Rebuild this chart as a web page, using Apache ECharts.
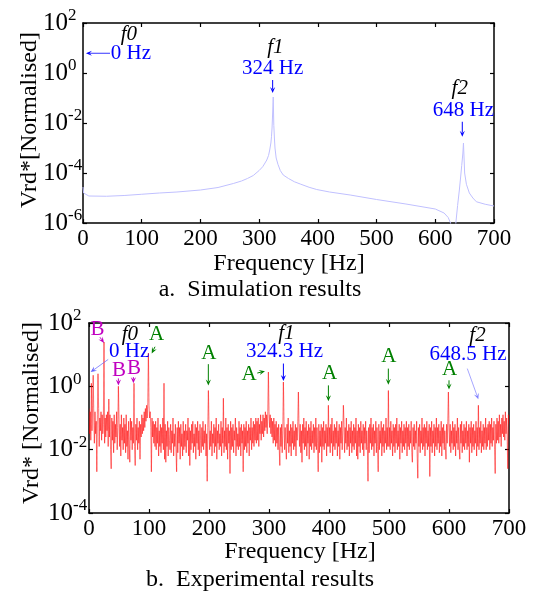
<!DOCTYPE html>
<html><head><meta charset="utf-8">
<script src="https://cdn.jsdelivr.net/npm/echarts@6.0.0/dist/echarts.min.js"></script>
<style>html,body{margin:0;padding:0;background:#fff}#c{width:538px;height:597px}</style>
</head><body><div id="c"></div><script>
// ---------- (a) simulation: frequency [Hz] and log10(Vrd*) ----------
const simFreq = [0,1,3,10,40,70,100,130,160,200,230,256,270,280,290,300,306,310,313,316,318,320,321,322,323,324,325,326,327,329,332,336,341,350,360,370,385,398,420,455,500,550,600,615,622,626,630,633,635,638,641,643,645,647,648,649,650,653,658,664,670,685,700];
const simExp = [-4.56,-4.80,-4.88,-4.92,-4.93,-4.90,-4.85,-4.80,-4.76,-4.68,-4.58,-4.42,-4.32,-4.22,-4.10,-3.9,-3.75,-3.6,-3.48,-3.3,-3.08,-2.8,-2.55,-2.2,-1.6,-0.96,-2.1,-2.6,-3.0,-3.4,-3.65,-3.9,-4.08,-4.22,-4.35,-4.44,-4.57,-4.66,-4.76,-4.88,-5.06,-5.24,-5.44,-5.6,-5.78,-6.0,-7.0,-7.5,-6.0,-5.3,-4.68,-4.2,-3.7,-3.2,-2.8,-3.4,-4.0,-4.45,-4.8,-5.0,-5.15,-5.25,-5.32];

// ---------- (b) experiment: log10(Vrd*) at 1 Hz steps, 0..700 Hz ----------
const expSeg0 = [-0.7,-1.5,-0.8,-1.7,-0.9,-1.4,-0.6,-1.6,-1.0,-1.8,
 -0.8,-1.5,-1.1,-2.7,-0.9,-1.6,-0.7,-1.9,-1.0,-1.4,
 -0.8,-1.7,-0.9,-1.5,-1.2,-0.7,-1.8,-1.0,-1.6,-0.9,
 -1.4,-0.8,-1.9,-1.1,-1.6,-0.9,-2.0,-2.6,-1.0,-1.7,
 -1.1,-2.1,-0.9,-1.8,-1.2,-1.6,-0.8,-2.0,-1.3,-1.5,
 -1.0,-1.9,-1.2,-2.2,-0.9,-1.7,-1.3,-2.0,-1.0,-1.8,
 -1.2,-2.1,-0.9,-1.9,-1.4,-2.3,-1.1,-1.8,-2.4,-1.0,
 -1.7,-1.1,-2.0,-1.3,-1.8,-0.9,-1.9,-2.5,-1.2,-1.7,
 -1.0,-2.0,-1.3,-1.8,-1.1,-2.3,-1.2,-1.6,-0.9,-1.5,
 -1.0,-1.4,-0.8,-1.3,-0.7,-1.1,-0.6,-1.0,-0.5,-0.8];
const expSeg1 = [-0.6,-1.0,-0.8,-1.3,-2.7,-1.0,-1.6,-1.1,-1.8,-1.2,
 -1.9,-1.1,-2.0,-1.3,-1.8,-1.0,-2.2,-1.4,-1.9,-1.2,
 -2.1,-1.3,-1.8,-1.0,-2.0,-1.5,-2.3,-1.2,-2.4,-1.4,
 -1.9,-1.1,-2.2,-1.3,-1.7,-2.0,-1.2,-2.1,-1.4,-1.8,
 -1.0,-2.2,-1.5,-1.9,-1.2,-2.0,-2.7,-1.3,-2.1,-1.1,
 -1.8,-1.3,-2.3,-1.2,-1.9,-1.5,-2.2,-1.1,-2.0,-1.4,
 -1.9,-1.2,-2.1,-1.4,-1.7,-1.0,-2.2,-1.3,-2.5,-1.4,
 -2.0,-1.2,-1.8,-1.1,-2.1,-1.5,-1.9,-1.2,-2.3,-1.3,
 -1.8,-1.1,-2.0,-1.4,-2.2,-1.2,-1.7,-2.1,-1.3,-1.9,
 -1.1,-2.0,-1.4,-1.8,-1.2,-2.2,-1.5,-3.0,-1.3,-1.9];
const expSeg2 = [-1.2,-2.0,-1.4,-1.9,-1.1,-2.2,-1.5,-1.8,-1.2,-2.1,
 -1.3,-1.9,-1.0,-2.3,-1.4,-1.8,-1.2,-2.0,-1.5,-1.9,
 -1.1,-2.2,-1.3,-1.8,-1.2,-2.1,-1.4,-1.9,-1.0,-2.0,
 -1.3,-2.3,-1.2,-1.8,-1.4,-2.75,-1.1,-2.0,-1.3,-1.9,
 -1.2,-2.1,-1.4,-1.7,-1.0,-2.2,-1.3,-1.9,-1.5,-2.0,
 -1.1,-1.9,-1.3,-2.2,-1.2,-1.8,-1.4,-2.7,-1.2,-2.0,
 -1.3,-1.9,-1.1,-2.1,-1.4,-1.8,-1.2,-2.2,-1.3,-1.7,
 -1.0,-2.0,-1.3,-1.8,-1.1,-1.9,-1.2,-1.7,-1.0,-1.8,
 -1.1,-1.7,-1.0,-1.9,-1.2,-1.5,-0.9,-1.7,-1.1,-1.5,
 -0.9,-1.6,-1.0,-1.4,-0.8,-1.3,-0.9,-1.5,-0.8,-1.2];
const expSeg3 = [-0.8,-1.3,-0.9,-1.5,-1.0,-1.6,-1.1,-1.8,-1.0,-1.7,
 -1.2,-1.9,-1.1,-1.8,-1.3,-2.0,-1.2,-1.9,-2.5,-1.3,
 -1.9,-1.2,-2.1,-1.4,-1.8,-1.1,-2.0,-1.3,-1.9,-2.3,
 -1.2,-1.8,-1.0,-2.1,-1.4,-1.9,-1.2,-2.2,-1.3,-1.8,
 -1.1,-2.0,-1.4,-1.9,-1.2,-2.2,-1.3,-1.7,-1.1,-2.0,
 -1.3,-1.9,-1.2,-2.1,-1.4,-2.4,-1.2,-1.8,-1.0,-2.0,
 -1.3,-1.9,-1.1,-2.2,-1.4,-1.8,-1.2,-2.3,-1.3,-1.9,
 -1.1,-2.0,-1.4,-1.8,-1.2,-2.1,-1.3,-1.9,-1.0,-2.0,
 -1.3,-1.8,-2.7,-1.2,-2.1,-1.4,-1.9,-1.2,-2.4,-1.3,
 -1.9,-1.1,-2.0,-1.4,-1.8,-1.2,-2.2,-1.3,-1.9,-1.1];
const expSeg4 = [-1.9,-1.3,-2.1,-1.2,-1.8,-1.0,-2.2,-1.4,-1.9,-1.2,
 -2.0,-1.3,-1.8,-1.1,-2.2,-1.4,-1.9,-1.2,-2.3,-1.3,
 -1.8,-1.1,-2.0,-1.4,-1.9,-1.2,-2.1,-1.3,-1.8,-1.0,
 -2.0,-1.4,-1.9,-1.2,-2.2,-1.3,-1.8,-1.1,-2.1,-1.4,
 -1.9,-1.2,-2.0,-1.3,-1.8,-1.0,-2.2,-1.4,-2.3,-1.2,
 -1.9,-1.3,-2.1,-1.1,-1.8,-1.4,-2.0,-1.2,-2.2,-1.3,
 -1.8,-1.1,-2.0,-1.4,-1.9,-3.0,-1.3,-2.1,-1.2,-1.8,
 -1.0,-2.0,-1.3,-1.9,-1.2,-2.2,-1.4,-1.8,-1.1,-2.1,
 -1.3,-1.9,-2.7,-1.2,-2.0,-1.4,-1.8,-1.1,-2.2,-1.3,
 -1.9,-1.2,-2.1,-1.4,-1.8,-1.0,-2.0,-1.3,-1.9,-1.2];
const expSeg5 = [-1.9,-1.3,-2.0,-1.1,-1.8,-1.4,-2.2,-1.2,-1.9,-1.3,
 -2.1,-1.2,-1.8,-1.0,-2.0,-1.4,-1.9,-1.2,-2.3,-1.3,
 -1.8,-1.1,-2.1,-1.4,-1.9,-1.2,-2.0,-1.3,-1.8,-1.1,
 -2.2,-1.3,-1.9,-1.2,-2.0,-1.4,-1.8,-1.1,-2.1,-2.4,
 -1.3,-1.9,-1.2,-2.0,-1.4,-1.8,-1.1,-2.2,-2.9,-1.3,
 -1.9,-1.2,-2.1,-1.4,-1.8,-1.0,-2.0,-1.3,-1.9,-1.2,
 -2.2,-1.3,-1.8,-1.1,-2.0,-1.4,-1.9,-1.2,-2.85,-1.3,
 -1.9,-1.1,-2.1,-1.4,-1.8,-1.2,-2.2,-1.3,-1.9,-1.0,
 -2.0,-1.3,-1.8,-1.2,-2.1,-1.4,-1.9,-1.1,-2.2,-1.3,
 -1.8,-1.2,-2.0,-1.4,-1.9,-2.3,-1.2,-1.8,-1.1,-2.0];
const expSeg6 = [-1.3,-1.9,-1.2,-2.1,-1.4,-1.8,-1.1,-2.0,-1.3,-1.9,
 -1.2,-2.2,-1.4,-1.8,-1.0,-2.0,-1.3,-1.9,-2.3,-1.2,
 -1.8,-1.1,-2.1,-1.4,-1.9,-1.2,-2.0,-1.3,-1.8,-1.1,
 -2.0,-1.4,-1.9,-1.2,-2.4,-1.3,-1.8,-1.1,-2.1,-1.3,
 -1.9,-1.2,-2.0,-1.4,-1.8,-1.1,-2.2,-1.3,-1.9,-1.2,
 -2.0,-1.3,-1.8,-1.1,-2.1,-1.4,-1.9,-1.2,-2.0,-1.3,
 -1.8,-1.0,-2.0,-1.3,-1.9,-1.2,-1.7,-1.1,-2.0,-1.2,
 -1.8,-1.0,-1.9,-1.3,-1.7,-1.1,-2.0,-2.75,-1.2,-1.8,
 -1.0,-1.7,-1.1,-1.8,-0.9,-1.6,-1.2,-1.9,-1.0,-1.5,
 -0.9,-1.6,-1.1,-1.7,-0.8,-1.5,-1.0,-1.6,-2.6,-0.9,
 -1.2];
// narrow spectral lines (frequency [Hz], log10 value)
const spikeFreq = [4,7,15,25,33,49,75,99,125,199,224,299,324,349,399,424,499,599,649];
const spikeExp  = [0.1,0.35,0.4,1.4,-0.4,0.0,0.1,1.05,0.1,-0.13,-0.38,0.45,0.14,-0.18,-0.6,-0.6,-0.13,-0.18,-0.6];

// ---------- annotations, anchored in data space [freq, log10 value] ----------
const annTextsA = [
 {t:'f0', it:true, c:'#000', at:[78,1.56]},
 {t:'0 Hz', c:'#0000ff', at:[81.5,0.79]},
 {t:'f1', it:true, c:'#000', at:[327.6,1.03]},
 {t:'324 Hz', c:'#0000ff', at:[323,0.17]},
 {t:'f2', it:true, c:'#000', at:[641.7,-0.63]},
 {t:'648 Hz', c:'#0000ff', at:[648,-1.51]}
];
const annArrowsA = [
 {c:'#0000ff', w:0.8, from:[46,0.79], to:[5,0.79]},
 {c:'#0000ff', w:1, from:[323,-0.28], to:[323,-0.8]},
 {c:'#0000ff', w:1, from:[646,-1.95], to:[646,-2.55]}
];
const annTextsB = [
 {t:'B', c:'#c000c0', at:[14,1.8]},
 {t:'f0', it:true, c:'#000', at:[68,1.65]},
 {t:'0 Hz', c:'#0000ff', at:[67,1.09]},
 {t:'A', c:'#008000', at:[112.8,1.63]},
 {t:'B', c:'#c000c0', at:[50,0.51]},
 {t:'B', c:'#c000c0', at:[75,0.57]},
 {t:'A', c:'#008000', at:[199.7,1.05]},
 {t:'324.3 Hz', c:'#0000ff', at:[326,1.09]},
 {t:'f1', it:true, c:'#000', at:[329,1.67]},
 {t:'A', c:'#008000', at:[267,0.38]},
 {t:'A', c:'#008000', at:[401,0.41]},
 {t:'A', c:'#008000', at:[499.7,0.94]},
 {t:'A', c:'#008000', at:[600.8,0.52]},
 {t:'f2', it:true, c:'#000', at:[647.5,1.62]},
 {t:'648.5 Hz', c:'#0000ff', at:[631.7,1.01]}
];
const annArrowsB = [
 {c:'#c000c0', w:1, from:[18.3,1.55], to:[25,1.37]},
 {c:'#6060ff', w:0.7, from:[32,0.85], to:[2.8,0.45]},
 {c:'#008000', w:1, from:[110,1.25], to:[104.5,1.04]},
 {c:'#c000c0', w:1, from:[49,0.25], to:[49,0.03]},
 {c:'#c000c0', w:1, from:[74,0.29], to:[74,0.1]},
 {c:'#008000', w:1, from:[198.9,0.7], to:[198.9,0.03]},
 {c:'#0000ff', w:1, from:[324,0.72], to:[324,0.17]},
 {c:'#008000', w:1, from:[280.5,0.42], to:[293.3,0.48]},
 {c:'#008000', w:1, from:[399,0.03], to:[399,-0.47]},
 {c:'#008000', w:1, from:[498.9,0.56], to:[498.9,0.05]},
 {c:'#008000', w:1, from:[600,0.19], to:[600,-0.1]},
 {c:'#8080ff', w:0.7, from:[630.5,0.56], to:[648.9,-0.41]}
];

const FONT = '"Liberation Serif", "Times New Roman", Times, serif';
const expAll = expSeg0.concat(expSeg1, expSeg2, expSeg3, expSeg4, expSeg5, expSeg6);
spikeFreq.forEach((f, i) => { expAll[f] = spikeExp[i]; });
const segData = [];
for (let i = 0; i < expAll.length - 1; i++) {
  segData.push([i, Math.pow(10, expAll[i]), i + 1, Math.pow(10, expAll[i + 1])]);
}
const simData = simFreq.map((f, i) => [f, Math.pow(10, simExp[i])]);

function xa(g, pos, show) {
  return {type:'value', gridIndex:g, position:pos, min:0, max:700, interval:100,
    axisLine:{show:true, onZero:false, lineStyle:{color:'#000', width:1.5}},
    axisTick:{show:true, inside:true, length:4, lineStyle:{color:'#000', width:1.2}},
    axisLabel:{show:show, margin:4, fontFamily:FONT, fontSize:23, color:'#000'},
    splitLine:{show:false}};
}
function ya(g, min, pos, show, margin) {
  return {type:'log', logBase:10, gridIndex:g, position:pos, min:min, max:100, interval:2,
    axisLine:{show:true, onZero:false, lineStyle:{color:'#000', width:1.5}},
    axisTick:{show:true, inside:true, length:4, lineStyle:{color:'#000', width:1.2}},
    axisLabel:{show:show, margin:margin, align:'left',
      formatter: v => '{b|10}{s|' + Math.round(Math.log10(v)) + '}',
      rich:{b:{fontFamily:FONT, fontSize:25, color:'#000', lineHeight:24},
            s:{fontFamily:FONT, fontSize:17, color:'#000', padding:[0,0,14,0]}}},
    splitLine:{show:false}, minorTick:{show:false}};
}

const chart = echarts.init(document.getElementById('c'), null, {renderer:'canvas'});
chart.setOption({
  animation:false,
  backgroundColor:'#fff',
  grid:[{left:83, top:23, width:411, height:200}, {left:89, top:323, width:420, height:190}],
  xAxis:[xa(0,'bottom',true), xa(0,'top',false), xa(1,'bottom',true), xa(1,'top',false)],
  yAxis:[ya(0,1e-6,'left',true,40), ya(0,1e-6,'right',false,8), ya(1,1e-4,'left',true,41), ya(1,1e-4,'right',false,8)],
  series:[
    {type:'line', xAxisIndex:0, yAxisIndex:0, data:simData, showSymbol:false, clip:true,
     lineStyle:{color:'#c0c0ff', width:1}, silent:true},
    {type:'custom', xAxisIndex:2, yAxisIndex:2, clip:true, silent:true, data:segData,
     encode:{x:[0,2], y:[1,3]},
     renderItem:function(params, api){
       const p1 = api.coord([api.value(0), api.value(1)]);
       const p2 = api.coord([api.value(2), api.value(3)]);
       return {type:'line', shape:{x1:p1[0], y1:p1[1], x2:p2[0], y2:p2[1]},
         style:{stroke:'rgba(255,0,0,0.5)', lineWidth:1.1}};
     }}
  ]
});

function px(g, f, e) {
  return chart.convertToPixel({xAxisIndex: g === 0 ? 0 : 2, yAxisIndex: g === 0 ? 0 : 2}, [f, Math.pow(10, e)]);
}
const gfx = [];
function addTexts(list, g) {
  list.forEach(a => {
    const p = px(g, a.at[0], a.at[1]);
    gfx.push({type:'text', x:p[0], y:p[1], silent:true, z:100,
      style:{text:a.t, fill:a.c, fontFamily:FONT, fontSize:21, fontStyle:a.it ? 'italic' : 'normal',
             align:'center', verticalAlign:'middle'}});
  });
}
function addArrows(list, g) {
  list.forEach(a => {
    const p1 = px(g, a.from[0], a.from[1]);
    const p2 = px(g, a.to[0], a.to[1]);
    const dx = p2[0] - p1[0], dy = p2[1] - p1[1];
    const L = Math.sqrt(dx*dx + dy*dy) || 1;
    const ux = dx / L, uy = dy / L;
    const hl = 6, hw = 2.6;
    const bx = p2[0] - ux*hl, by = p2[1] - uy*hl;
    gfx.push({type:'line', silent:true, z:100, shape:{x1:p1[0], y1:p1[1], x2:bx + ux*2, y2:by + uy*2},
      style:{stroke:a.c, lineWidth:a.w}});
    gfx.push({type:'polygon', silent:true, z:100,
      shape:{points:[[p2[0], p2[1]], [bx - uy*hw, by + ux*hw], [p2[0] - ux*hl*0.6, p2[1] - uy*hl*0.6], [bx + uy*hw, by - ux*hw]]},
      style:{fill:a.c}});
  });
}
addTexts(annTextsA, 0); addArrows(annArrowsA, 0);
addTexts(annTextsB, 1); addArrows(annArrowsB, 1);

function label(t, x, y, rot) {
  gfx.push({type:'text', x:x, y:y, rotation:rot || 0, silent:true,
    style:{text:t, fill:'#000', fontFamily:FONT, fontSize:24, align:'center', verticalAlign:'middle'}});
}
label('Vrd*[Normalised]', 30, 120, Math.PI/2);
label('Frequency [Hz]', 289, 264);
label('a.  Simulation results', 260, 290);
label('Vrd* [Normalised]', 32, 413, Math.PI/2);
label('Frequency [Hz]', 300, 552);
label('b.  Experimental results', 260, 580);

chart.setOption({graphic: gfx});
</script></body></html>
